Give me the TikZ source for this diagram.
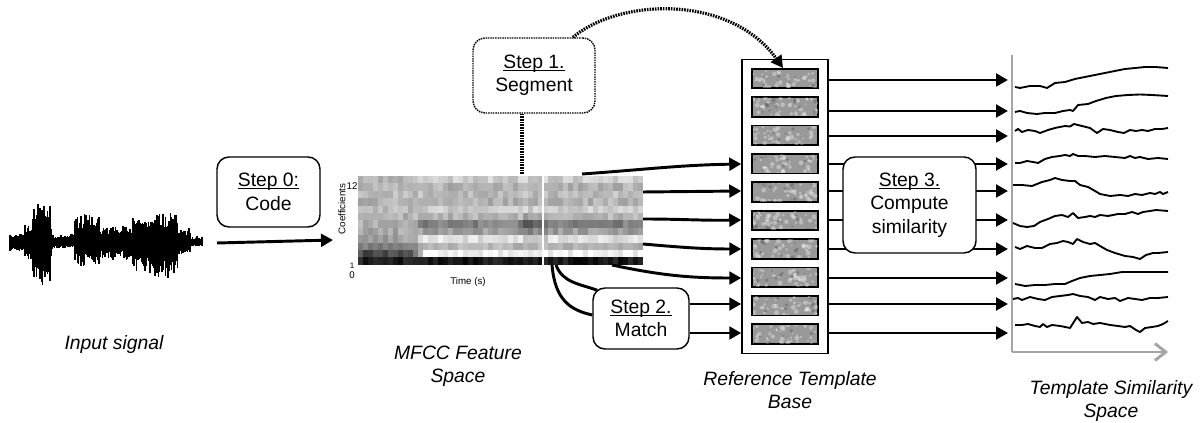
\documentclass[tikz,border=0pt]{standalone}
\usepackage{fontspec}
\setmainfont{Liberation Sans}
\usepackage{xcolor}
\usetikzlibrary{arrows.meta}
\usetikzlibrary{calc}
\definecolor{axisgray}{RGB}{165,165,165}
\newcommand{\steptitle}[1]{\setbox0\hbox{#1}\rlap{\rule[-1.7pt]{\wd0}{0.8pt}}\box0}
\tikzset{> = {Triangle[length=9pt,width=9.5pt]}}
\tikzset{
	stepbox/.style={draw,rounded corners=9pt,line width=1.1pt,fill=white,align=center,inner sep=2pt,font=\fontsize{14.5}{17.5}\selectfont},
	caption/.style={align=center,font=\fontsize{14.5}{17.5}\selectfont\itshape},
	flow/.style={->,line width=2.2pt},
	link/.style={line width=2.2pt},
	dotline/.style={line width=2.4pt,dash pattern=on 1.2pt off 0.8pt},
	dotflow/.style={->,dotline},
	simline/.style={line width=1.4pt,line join=round},
	wave/.style={line width=1.1pt},
	cellbox/.style={draw,line width=0.9pt,fill=black!40,minimum width=48.75pt,minimum height=14.25pt,inner sep=0pt},
	small/.style={font=\fontsize{7.3}{8}\selectfont,inner sep=0pt}
}

\begin{document}
\begin{tikzpicture}[x=0.75pt,y=-0.75pt]
	\useasboundingbox (0,0) rectangle (1203,423);
	\pgfmathsetseed{11}

	% speech waveform
	\foreach \xa/\xb/\up/\dn in {10/25/9/9, 25/33/18/22, 33/50/40/48, 50/52/16/22, 52/75/8/7, 75/100/28/24, 100/133/16/18, 133/150/24/30, 150/178/29/38, 178/190/14/14, 190/203/6/5}{
		\pgfmathsetmacro\xs{\xa+1.2}
		\foreach \x in {\xa,\xs,...,\xb}{
			\pgfmathsetmacro\ru{\up*(0.5+0.5*rnd)}
			\pgfmathsetmacro\rd{\dn*(0.5+0.5*rnd)}
			\draw[wave] (\x,242-\ru) -- (\x,242+\rd);
		}
	}
	\node[caption] (insig) at (114,345) {Input signal};

	% MFCC image
	\node[inner sep=0pt,minimum width=213.75pt,minimum height=66.75pt] (spec) at (500.5,220.5) {};
	\foreach \r/\bl/\br in {1/72/80,2/70/70,3/73/74,4/70/70,5/72/80,6/70/72,7/68/50,8/66/62,9/62/88,10/50/72,11/30/95,12/12/10}{
		\foreach \c in {0,...,56}{
			\pgfmathsetmacro\w{min(1,max(0,(\c-10)/3))}
			\pgfmathsetmacro\k{100-max(0,min(100,(1-\w)*\bl+\w*\br+16*(rnd-0.5)-10*(\c>32)*(\c<38)*(\r>5)*(\r<10)))}
			\fill[black!\k] (358+5*\c,176+7.4*\r-7.4) rectangle ++(5.4,7.8);
		}
	}
	\draw[white,line width=1.4pt] (543,176) -- (543,265);
	\node[small,rotate=90] (coefl) at (342,209) {Coefficients};
	\node[small] (ctop) at (352,186) {12};
	\node[small,font=\fontsize{6}{7}\selectfont] (cone) at (352,266) {1};
	\node[small] (czero) at (352,275) {0};
	\node[small] (tlabel) at (468,282) {Time (s)};
	\node[caption] (mfcc) at (458,366) {MFCC Feature\\Space};

	% step 0
	\node[stepbox,minimum width=77.25pt,minimum height=52.5pt] (code) at (268.5,192) {\steptitle{Step 0:}\\Code};
	\coordinate (sigout) at (217,243);
	\coordinate (specin) at (333,240);
	\draw[flow] (sigout) -- (specin);

	% template base
	\node[draw,line width=1.1pt,minimum width=64.5pt,minimum height=220.5pt] (tbase) at (785,206.5) {};
	\foreach \i in {1,...,10}{
		\node[cellbox] (cell\i) at (785,{78.5+28.4*(\i-1)}) {};
		\begin{scope}
			\clip (cell\i.south west) rectangle (cell\i.north east);
			\foreach \n in {1,...,40}{
				\pgfmathsetmacro\bx{752+65*rnd}
				\pgfmathsetmacro\by{69+28.4*(\i-1)+19*rnd}
				\pgfmathsetmacro\rr{0.7+1.2*rnd}
				\fill[white,opacity=0.35] (\bx,\by) circle[radius=\rr pt];
			}
			\foreach \n in {1,...,12}{
				\pgfmathsetmacro\bx{752+65*rnd}
				\pgfmathsetmacro\by{69+28.4*(\i-1)+19*rnd}
				\pgfmathsetmacro\rr{0.6+1*rnd}
				\fill[black,opacity=0.2] (\bx,\by) circle[radius=\rr pt];
			}
		\end{scope}
		\draw[line width=0.9pt] (cell\i.south west) rectangle (cell\i.north east);
	}
	\node[caption] (rtb) at (790,390) {Reference Template\\Base};

	% step 1
	\node[stepbox,dash pattern=on 1.1pt off 0.7pt,minimum width=91.5pt,minimum height=56.25pt] (segment) at (534,75.5) {\steptitle{Step 1.}\\Segment};
	\coordinate (cut) at (522,174);
	\coordinate (drop) at (783,68);
	\draw[dotline] (cut) -- (cut |- segment.south);
	\draw[dotflow] ($(segment.north)+(39,0)$) .. controls (620,-2) and (730,-6) .. (drop);

	% similarity arrows
	\foreach \i/\y in {1/80,2/111,3/136,4/164,5/191,6/220,7/249,8/278,9/304,10/333}{
		\coordinate (s\i) at (1008,\y);
		\draw[flow] (tbase.east |- s\i) -- (s\i);
	}

	% step 2
	\node[stepbox,minimum width=72pt,minimum height=45.75pt] (match) at (641,318.5) {\steptitle{Step 2.}\\Match};
	\coordinate (m1) at (582,174);
	\coordinate (m2) at (643,192);
	\coordinate (m3) at (643,219);
	\coordinate (m4) at (643,244);
	\coordinate (m5) at (612,265);
	\coordinate (m6) at (556,265);
	\coordinate (m7) at (552,265);
	\draw[flow] (m1) to[out=4,in=181] (tbase.west |- s4);
	\draw[flow] (m2) -- (tbase.west |- s5);
	\draw[flow] (m3) to[out=0,in=181] (tbase.west |- s6);
	\draw[flow] (m4) to[out=-5,in=180] (tbase.west |- s7);
	\draw[flow] (m5) to[out=-12,in=180] (tbase.west |- s8);
	\draw[link] (m6) to[out=-70,in=160] ($(match.north west)+(5,3)$);
	\draw[link] (m7) .. controls (555,300) and (570,310) .. ($(match.west)+(0,-3.5)$);
	\draw[flow] (match.east |- s9) -- (tbase.west |- s9);
	\draw[flow] (match.east |- s10) -- (tbase.west |- s10);

	% step 3
	\node[stepbox,minimum width=99.75pt,minimum height=72pt] (compute) at (909.5,205) {\steptitle{Step 3.}\\Compute\\similarity};

	% similarity space
	\coordinate (ytop) at (1012,55);
	\coordinate (org) at (1012,352);
	\coordinate (xend) at (1168,352);
	\draw[axisgray,line width=1.6pt] (ytop) -- (org);
	\draw[axisgray,line width=2.2pt,-{Straight Barb[length=8pt,width=12.75pt]}] (org) -- (xend);
	\draw[simline] plot coordinates {(1015,87) (1020,88) (1030,86) (1040,86) (1047,88) (1055,83) (1065,82) (1075,79) (1085,77) (1095,75) (1105,73) (1115,71) (1125,69) (1135,68) (1145,67) (1155,67) (1168,68)};
	\draw[simline] plot coordinates {(1015,112) (1020,111) (1027,113) (1037,114) (1045,113) (1055,113) (1063,111) (1070,110) (1073,111) (1078,105) (1088,104) (1096,101) (1106,98) (1116,96) (1128,95) (1140,94.5) (1152,95) (1168,96)};
	\draw[simline] plot coordinates {(1015,131) (1018,129) (1022,132) (1028,130) (1035,131) (1040,133) (1048,130) (1055,128) (1065,126) (1070,126.5) (1074,124) (1082,126) (1090,128) (1097,133) (1103,129) (1110,130) (1118,132) (1124,133) (1130,130) (1136,131) (1142,130) (1148,131) (1155,129) (1162,129) (1168,128)};
	\draw[simline] plot coordinates {(1015,163) (1020,163) (1027,161) (1033,162) (1038,163) (1045,159) (1052,157) (1060,156) (1065,155) (1070,156) (1073,154) (1078,156) (1085,156) (1095,157) (1105,156) (1115,157) (1125,158) (1130,156) (1135,158) (1140,157) (1148,159) (1158,158) (1168,159)};
	\draw[simline] plot coordinates {(1013,185) (1022,185) (1032,186) (1042,182) (1050,180) (1055,178) (1062,180) (1070,181) (1075,181) (1080,185) (1088,187) (1095,191) (1100,194) (1110,196) (1120,195) (1128,196) (1135,194) (1142,195) (1150,193) (1155,194) (1160,192) (1163,194) (1168,192)};
	\draw[simline] plot coordinates {(1013,223) (1020,226) (1027,227) (1034,226) (1040,222) (1048,219) (1055,216) (1062,215) (1068,217) (1073,213) (1078,218) (1085,217) (1090,216) (1095,217) (1100,215) (1108,216) (1118,214) (1125,214) (1132,212) (1138,214) (1143,212) (1150,211) (1156,210) (1168,211)};
	\draw[simline] plot coordinates {(1015,247) (1020,249) (1027,246) (1035,248) (1042,248) (1050,244) (1057,243) (1063,241) (1068,242) (1073,244) (1077,239) (1083,242) (1090,244) (1095,243) (1100,246) (1107,250) (1115,253) (1125,256) (1133,257) (1140,259) (1146,255) (1153,253) (1158,253) (1168,252)};
	\draw[simline] plot coordinates {(1015,284) (1025,286) (1035,285) (1045,285) (1055,284) (1065,284) (1072,281) (1080,278) (1090,276) (1100,275) (1110,274) (1122,272) (1135,272) (1150,272) (1168,272)};
	\draw[simline] plot coordinates {(1013,299) (1018,298) (1022,300) (1030,297) (1038,299) (1045,300) (1052,297) (1060,296) (1068,295) (1073,294) (1080,296) (1088,297) (1095,300) (1100,297) (1108,299) (1115,298) (1120,301) (1128,298) (1135,299) (1142,300) (1150,298) (1158,298) (1168,297)};
	\draw[simline] plot coordinates {(1015,325) (1022,325) (1028,324) (1035,326) (1040,327) (1043,324) (1047,327) (1052,325) (1060,326) (1070,328) (1077,317) (1082,323) (1088,322) (1093,324) (1100,323) (1105,324) (1110,325) (1118,326) (1125,327) (1130,326) (1136,330) (1140,332) (1145,328) (1152,327) (1158,326) (1163,324) (1168,321)};
	\node[caption] (tss) at (1111,401) {Template Similarity\\Space};
\end{tikzpicture}
\end{document}
